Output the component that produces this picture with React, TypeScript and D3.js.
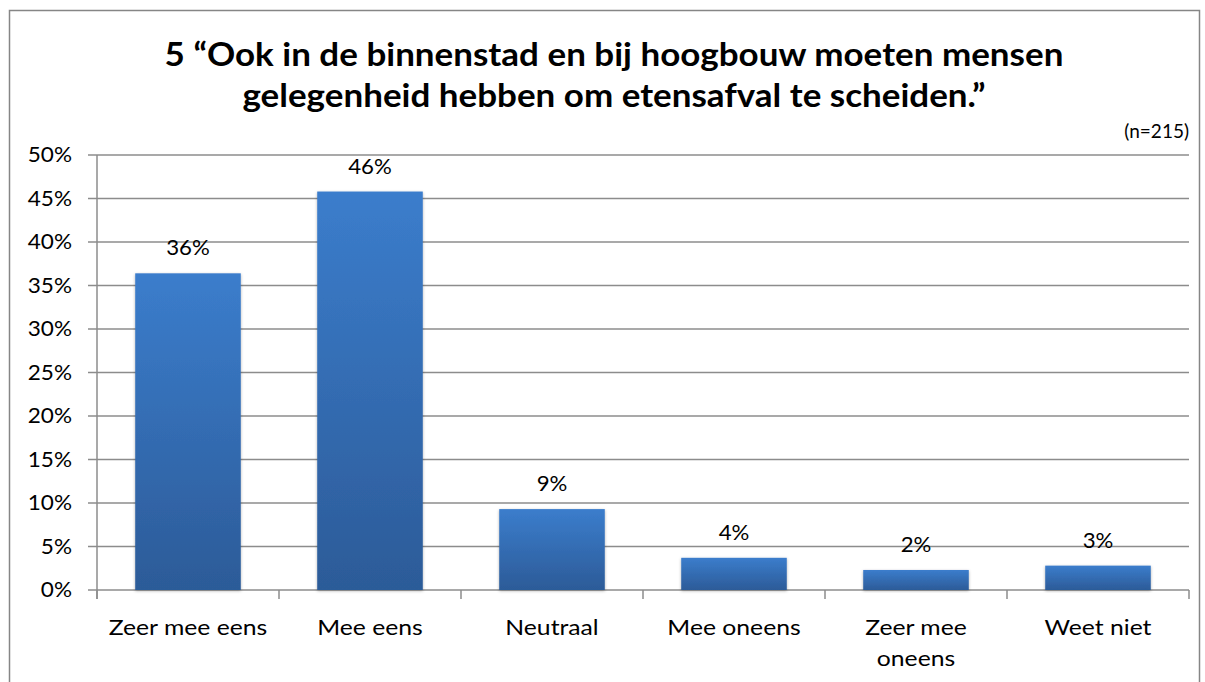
import { useEffect, useRef } from "react";
import * as d3 from "d3";

const categories = ["Zeer mee eens", "Mee eens", "Neutraal", "Mee oneens", "Zeer mee oneens", "Weet niet"];
const values = [0.364, 0.458, 0.093, 0.037, 0.023, 0.028];
const valueLabels = ["36%", "46%", "9%", "4%", "2%", "3%"];
const yTicks = [0, 0.05, 0.1, 0.15, 0.2, 0.25, 0.3, 0.35, 0.4, 0.45, 0.5];
const titleLines = [
  "5 \u201cOok in de binnenstad en bij hoogbouw moeten mensen",
  "gelegenheid hebben om etensafval te scheiden.\u201d",
];
const note = "(n=215)";

export default function App() {
  const svgRef = useRef<SVGSVGElement | null>(null);

  useEffect(() => {
    document.body.style.margin = "0";
    const width = 1205;
    const height = 682;
    const margin = { top: 155, right: 16, bottom: 92, left: 97 };
    const font = "Lato, 'Open Sans', sans-serif";

    const svg = d3.select(svgRef.current)
      .attr("width", width)
      .attr("height", height)
      .style("background", "#fff")
      .style("display", "block");

    svg.selectAll("*").remove();

    const defs = svg.append("defs");
    const grad = defs.append("linearGradient")
      .attr("id", "barGrad")
      .attr("x1", 0).attr("y1", 0).attr("x2", 0).attr("y2", 1);
    grad.append("stop").attr("offset", "0%").attr("stop-color", "#3b7dcc");
    grad.append("stop").attr("offset", "100%").attr("stop-color", "#2c5b98");

    const shadow = defs.append("filter").attr("id", "barShadow")
      .attr("x", "-10%").attr("y", "-10%").attr("width", "120%").attr("height", "120%");
    shadow.append("feDropShadow")
      .attr("dx", 0).attr("dy", 1).attr("stdDeviation", 1.5)
      .attr("flood-color", "#000").attr("flood-opacity", 0.3);

    // outer frame
    svg.append("rect")
      .attr("x", 9.5).attr("y", 10.5)
      .attr("width", 1190).attr("height", 690)
      .attr("fill", "none")
      .attr("stroke", "#868686")
      .attr("stroke-width", 1.5);

    const x = d3.scaleBand()
      .domain(categories)
      .range([margin.left, width - margin.right])
      .paddingInner(0.42)
      .paddingOuter(0.21);

    const y = d3.scaleLinear()
      .domain([0, 0.5])
      .range([height - margin.bottom, margin.top]);

    // gridlines
    svg.append("g")
      .selectAll("line")
      .data(yTicks)
      .join("line")
      .attr("x1", margin.left - 9)
      .attr("x2", width - margin.right)
      .attr("y1", d => y(d))
      .attr("y2", d => y(d))
      .attr("stroke", "#8c8c8c")
      .attr("stroke-width", 1.5);

    // y axis line
    svg.append("line")
      .attr("x1", margin.left).attr("x2", margin.left)
      .attr("y1", y(0.5)).attr("y2", y(0) + 9)
      .attr("stroke", "#8c8c8c")
      .attr("stroke-width", 1.5);

    // y tick labels (slightly widened to match the stretched original)
    svg.append("g")
      .selectAll("text")
      .data(yTicks)
      .join("text")
      .attr("transform", d => `translate(72,${y(d)}) scale(1.1,1)`)
      .attr("dy", "0.35em")
      .attr("text-anchor", "end")
      .style("font-family", font)
      .style("font-size", "20.5px")
      .attr("fill", "#000")
      .text(d => d3.format(".0%")(d));

    // x ticks
    const step = x.step();
    const xTickPos = d3.range(categories.length + 1).map(i => margin.left + i * step);
    svg.append("g")
      .selectAll("line")
      .data(xTickPos)
      .join("line")
      .attr("x1", d => d).attr("x2", d => d)
      .attr("y1", y(0)).attr("y2", y(0) + 9)
      .attr("stroke", "#8c8c8c")
      .attr("stroke-width", 1.5);

    // bars
    svg.append("g")
      .selectAll("rect")
      .data(values)
      .join("rect")
      .attr("x", (d, i) => x(categories[i])!)
      .attr("y", d => y(d))
      .attr("width", x.bandwidth())
      .attr("height", d => y(0) - y(d))
      .attr("fill", "url(#barGrad)")
      .attr("filter", "url(#barShadow)");

    // value labels
    svg.append("g")
      .selectAll("text")
      .data(values)
      .join("text")
      .attr("transform", (d, i) =>
        `translate(${x(categories[i])! + x.bandwidth() / 2},${y(d) - 18}) scale(1.06,1)`)
      .attr("text-anchor", "middle")
      .style("font-family", font)
      .style("font-size", "21px")
      .attr("fill", "#000")
      .text((d, i) => valueLabels[i]);

    // category labels (wrapped, measured before the horizontal stretch)
    const wrapWidth = step * 0.82;
    svg.append("g")
      .selectAll("text")
      .data(categories)
      .join("text")
      .attr("transform", d => `translate(${x(d)! + x.bandwidth() / 2},${y(0) + 45}) scale(1.15,1)`)
      .attr("text-anchor", "middle")
      .style("font-family", font)
      .style("font-size", "21.5px")
      .attr("fill", "#000")
      .each(function (d) {
        const t = d3.select(this);
        const words = d.split(" ");
        const lines: string[] = [];
        let cur = "";
        const probe = t.append("tspan");
        for (const w of words) {
          const test = cur ? cur + " " + w : w;
          probe.text(test);
          const len = (probe.node() as SVGTextContentElement).getComputedTextLength();
          if (len > wrapWidth && cur) {
            lines.push(cur);
            cur = w;
          } else {
            cur = test;
          }
        }
        lines.push(cur);
        probe.remove();
        lines.forEach((l, i) => {
          t.append("tspan")
            .attr("x", 0)
            .attr("dy", i === 0 ? 0 : 31)
            .text(l);
        });
      });

    // title
    svg.append("g")
      .selectAll("text")
      .data(titleLines)
      .join("text")
      .attr("transform", (d, i) => `translate(614,${66 + i * 41}) scale(1.06,1)`)
      .attr("text-anchor", "middle")
      .style("font-family", font)
      .style("font-weight", "bold")
      .style("font-size", "33px")
      .attr("fill", "#000")
      .text(d => d);

    svg.append("text")
      .attr("x", 1189)
      .attr("y", 138)
      .attr("text-anchor", "end")
      .style("font-family", font)
      .style("font-size", "19px")
      .attr("fill", "#000")
      .text(note);
  }, []);

  return <svg ref={svgRef}></svg>;
}
